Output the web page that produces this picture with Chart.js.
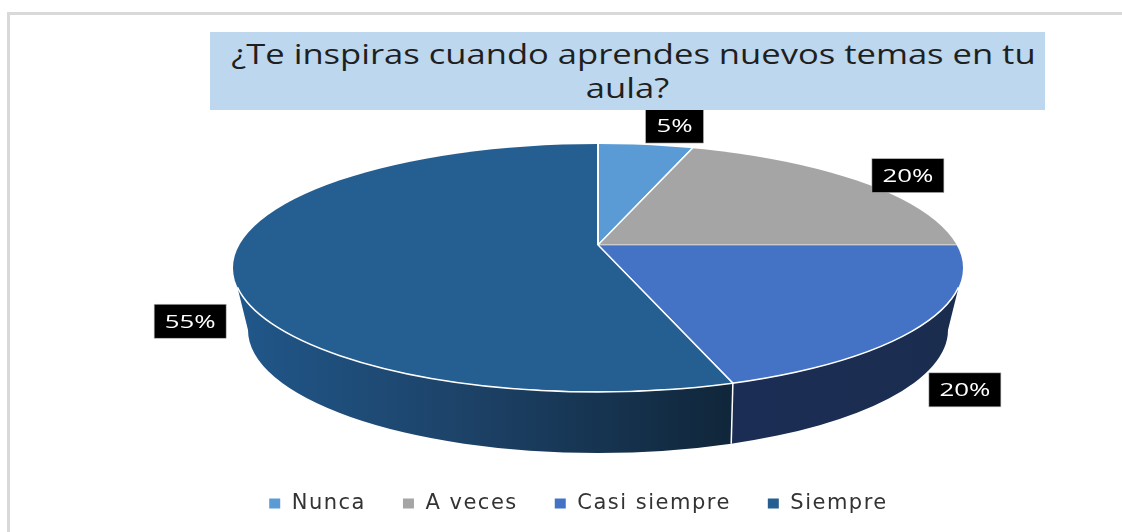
<!DOCTYPE html>
<html>
<head>
<meta charset="utf-8">
<script src="https://cdn.jsdelivr.net/npm/chart.js@4"></script>
<style>
  html, body { margin: 0; padding: 0; background: #fff; overflow: hidden; }
  #marco { position: absolute; left: 7px; top: 12px; right: 0; bottom: 0; border-left: 3px solid #d9d9d9; border-top: 3px solid #d9d9d9; }
  #titulo { position: absolute; left: 210px; top: 32px; width: 835px; height: 78px; background: #BDD7EE; overflow: hidden; }
  #titulo div { position: absolute; left: 0; width: 835px; text-align: center; font: 27px "Open Sans"; color: #1f1f1f; transform: scaleX(1.28); white-space: nowrap; }
  canvas { position: absolute; left: 0; top: 0; }
</style>
</head>
<body>
<div id="marco"></div>
<canvas id="grafico" width="1122" height="532"></canvas>
<div id="titulo">
  <div style="top:3px;left:6px">¿Te inspiras cuando aprendes nuevos temas en tu</div>
  <div style="top:37px">aula?</div>
</div>
<script>
const categorias = ["Nunca", "A veces", "Casi siempre", "Siempre"];
const valores = [5, 20, 20, 55];
const colores = ["#5B9BD5", "#A5A5A5", "#4472C4", "#255E91"];

// caja del % respecto al borde de cada porcion
const desvioEtiqueta = [[29, -19], [48, -6], [41, 66], [-43, 57]];

// geometria del falso 3D
const cx = 598, cy = 268, rx = 365, ry = 124;      // elipse de arriba
const vx = 598, vy = 245, escala = 0.333;          // vertice de las porciones
const baseCy = 330, baseRx = 350, baseRy = 123;    // elipse de abajo
const t0 = 9 * Math.PI / 180;

function tEnBorde(a) {
  const c = Math.cos(a), d = escala * Math.sin(a), h = vy - cy;
  const A = c * c / (rx * rx) + d * d / (ry * ry);
  const B = 2 * h * d / (ry * ry);
  const C = h * h / (ry * ry) - 1;
  const r = (-B + Math.sqrt(B * B - 4 * A * C)) / (2 * A);
  const x = vx + r * c, y = vy + r * d;
  let t = Math.atan2((y - cy) / ry, (x - cx) / rx);
  if (t < -Math.PI / 2 - 0.001) t += Math.PI * 2;
  return t;
}

function rellenoLado(ctx, i) {
  if (i === 2) {
    const g = ctx.createLinearGradient(730, 0, 960, 0);
    g.addColorStop(0, "#1C2D55");
    g.addColorStop(1, "#1A2D4F");
    return g;
  }
  const g = ctx.createLinearGradient(235, 0, 730, 0);
  g.addColorStop(0, "#20578A");
  g.addColorStop(0.45, "#1D4369");
  g.addColorStop(1, "#10263A");
  return g;
}

const pie3d = {
  id: "pie3d",
  beforeDatasetsDraw(chart) {
    const ctx = chart.ctx;
    const arcos = chart.getDatasetMeta(0).data;

    // lados
    arcos.forEach((arc, i) => {
      const ini = Math.max(tEnBorde(arc.startAngle), t0);
      let fin = tEnBorde(arc.endAngle);
      if (arc.endAngle > Math.PI) fin = Math.PI * 1.5;
      fin = Math.min(fin, Math.PI - t0);
      if (ini >= fin) return;
      const bIni = ini === t0 ? 0 : ini - 0.012;
      const bFin = fin === Math.PI - t0 ? Math.PI : fin - 0.012;
      ctx.beginPath();
      ctx.ellipse(cx, cy, rx, ry, 0, ini, fin);
      ctx.ellipse(cx, baseCy, baseRx, baseRy, 0, bFin, bIni, true);
      ctx.closePath();
      ctx.fillStyle = rellenoLado(ctx, i);
      ctx.fill();
      if (ini !== t0) {
        ctx.beginPath();
        ctx.moveTo(cx + rx * Math.cos(ini), cy + ry * Math.sin(ini));
        ctx.lineTo(cx + baseRx * Math.cos(bIni), baseCy + baseRy * Math.sin(bIni));
        ctx.strokeStyle = "#fff";
        ctx.lineWidth = 1.5;
        ctx.stroke();
      }
    });

    // cara de arriba: las porciones de Chart.js aplastadas y recortadas
    ctx.save();
    ctx.beginPath();
    ctx.ellipse(cx, cy, rx, ry, 0, 0, Math.PI * 2);
    ctx.clip();
    ctx.translate(vx, vy);
    ctx.scale(1, escala);
    ctx.translate(-arcos[0].x, -arcos[0].y);
  },
  afterDatasetsDraw(chart) {
    const ctx = chart.ctx;
    const arcos = chart.getDatasetMeta(0).data;
    ctx.restore();

    ctx.beginPath();
    ctx.ellipse(cx, cy, rx, ry, 0, t0, Math.PI - t0);
    ctx.strokeStyle = "#fff";
    ctx.lineWidth = 1.5;
    ctx.stroke();

    // etiquetas
    const espaciado = ctx.letterSpacing;
    ctx.letterSpacing = "0px";
    arcos.forEach((arc, i) => {
      const medio = (arc.startAngle + arc.endAngle) / 2;
      const t = tEnBorde(medio);
      const x = cx + rx * Math.cos(t) + desvioEtiqueta[i][0];
      const y = cy + ry * Math.sin(t) + desvioEtiqueta[i][1];
      const w = valores[i] < 10 ? 58 : 72, h = 34;
      ctx.fillStyle = "#000";
      ctx.fillRect(x - w / 2, y - h / 2, w, h);
      ctx.strokeStyle = "#bbb";
      ctx.lineWidth = 0.6;
      ctx.strokeRect(x - w / 2, y - h / 2, w, h);
      ctx.save();
      ctx.translate(x, y);
      ctx.scale(1.36, 1);
      ctx.fillStyle = "#fff";
      ctx.font = '19px "Open Sans"';
      ctx.textAlign = "center";
      ctx.textBaseline = "middle";
      ctx.fillText(valores[i] + "%", 0, 1);
      ctx.restore();
    });
    ctx.letterSpacing = espaciado;
  },
  beforeLayout(chart) {
    chart.ctx.letterSpacing = "1.5px";
  }
};

new Chart(document.getElementById("grafico"), {
  type: "pie",
  data: {
    labels: categorias,
    datasets: [{
      data: valores,
      backgroundColor: colores,
      borderColor: "#fff",
      borderWidth: 2,
      radius: 440,
      clip: false
    }]
  },
  options: {
    responsive: false,
    animation: false,
    layout: { padding: { left: 34, bottom: 8 } },
    plugins: {
      tooltip: { enabled: false },
      legend: {
        position: "bottom",
        labels: {
          boxWidth: 13,
          boxHeight: 12,
          padding: 36,
          color: "#333",
          font: { family: "DejaVu Sans", size: 21 }
        }
      }
    }
  },
  plugins: [pie3d]
});
</script>
</body>
</html>
